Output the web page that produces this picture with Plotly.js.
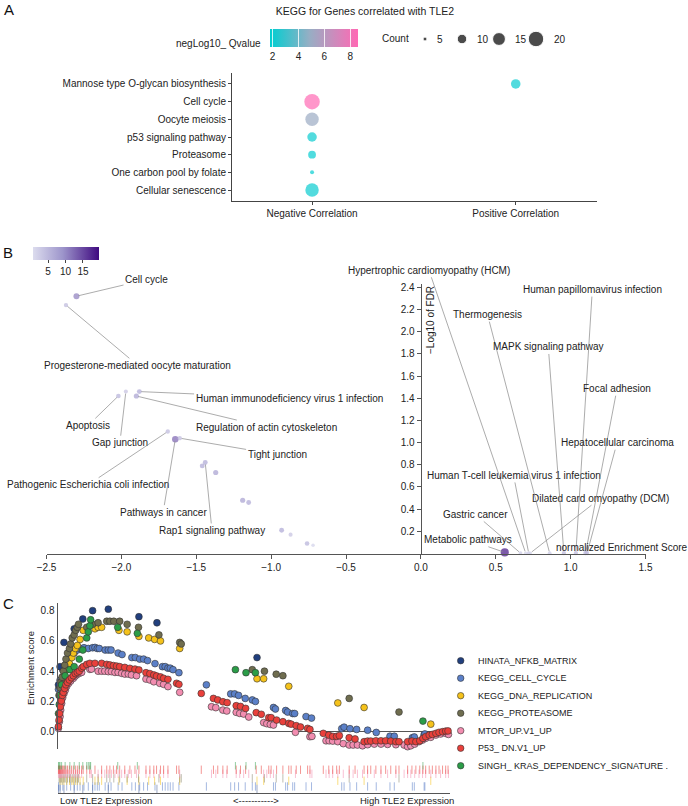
<!DOCTYPE html>
<html><head><meta charset="utf-8">
<script src="https://cdn.plot.ly/plotly-3.0.1.min.js"></script>
<style>body{margin:0;padding:0;background:#fff}#chart{width:688px;height:806px}</style>
</head><body><div id="chart"></div>
<script>
// ================= Panel A data =================
const keggTerms = ["Cellular senescence","One carbon pool by folate","Proteasome","p53 signaling pathway","Oocyte meiosis","Cell cycle","Mannose type O-glycan biosynthesis"];
const keggGroup = ["Negative Correlation","Negative Correlation","Negative Correlation","Negative Correlation","Negative Correlation","Negative Correlation","Positive Correlation"];
const keggCount = [16, 5, 8, 10, 16, 20, 10];
const keggQ = [2.0, 1.9, 1.9, 2.0, 5.0, 8.6, 1.95];
const groupCats = ["Negative Correlation","Positive Correlation"];
const countLegend = [5, 10, 15, 20];
const qTicks = [2, 4, 6, 8];

// ================= Panel B data =================
const nesTerms = ["Cell cycle","Progesterone-mediated oocyte maturation","Apoptosis","Gap junction","Human immunodeficiency virus 1 infection","Regulation of actin cytoskeleton","Pathogenic Escherichia coli infection","Pathways in cancer","Tight junction","Rap1 signaling pathway","","","","","","","","","Metabolic pathways","Gastric cancer","Hypertrophic cardiomyopathy (HCM)","Human T-cell leukemia virus 1 infection","Dilated card omyopathy (DCM)","Thermogenesis","MAPK signaling pathway","Human papillomavirus infection","Focal adhesion","Hepatocellular carcinoma"];
const nes = [-2.30,-2.37,-2.02,-1.97,-1.88,-1.90,-1.69,-1.64,-1.61,-1.44,-1.46,-1.37,-1.19,-1.15,-0.93,-0.87,-0.76,-0.72,0.56,0.665,0.70,0.72,0.73,0.86,0.955,1.035,1.10,1.11];
const fdr = [2.32,2.24,1.42,1.46,1.46,1.42,1.10,1.03,1.04,0.82,0.79,0.73,0.48,0.46,0.21,0.17,0.09,0.075,0.01,0.004,0.003,0.003,0.003,0.003,0.004,0.004,0.004,0.004];
const nesCount = [11,5,6,4,7,8,5,13,5,7,7,8,8,7,7,4,6,2,19,3,2,3,2,3,5,5,6,5];
const nesTicks = [-2.5,-2.0,-1.5,-1.0,-0.5,0.0,0.5,1.0,1.5];
const fdrTicks = [0.2,0.4,0.6,0.8,1.0,1.2,1.4,1.6,1.8,2.0,2.2,2.4];
const nesColorTicks = [5,10,15];

// ================= Panel C data =================
const gsNames = ["HINATA_NFKB_MATRIX","KEGG_CELL_CYCLE","KEGG_DNA_REPLICATION","KEGG_PROTEASOME","MTOR_UP.V1_UP","P53_ DN.V1_UP","SINGH_ KRAS_DEPENDENCY_SIGNATURE ."];
const hinataRank = [0.2,0.6,1.6,4.2,6.4,8.9,12.9,20.7,25.3,50.8];
const hinataES   = [0.31,0.43,0.59,0.68,0.745,0.80,0.81,0.76,0.72,0.49];
const cellCycleRank = [0.2,0.6,1.3,2.3,3.3,4.2,5.0,5.7,6.7,7.8,8.9,9.5,10.1,10.6,12.1,12.9,13.6,15.4,16.4,18.9,19.8,20.9,21.9,22.9,24.8,26.7,27.4,28.1,28.7,29.4,30.9,37.9,44.1,45.1,46.1,47.8,49.6,50.4,55.0,55.5,58.1,58.6,59.9,60.4,63.3,64.7,72.4,73.0,74.5,76.2,79.0,81.2,84.7,85.8,90.4,90.9,93.4,93.6];
const cellCycleES   = [0.28,0.34,0.41,0.45,0.50,0.52,0.54,0.55,0.555,0.55,0.555,0.557,0.55,0.55,0.54,0.54,0.54,0.52,0.51,0.49,0.49,0.48,0.48,0.47,0.45,0.43,0.43,0.42,0.42,0.41,0.39,0.31,0.25,0.25,0.24,0.22,0.21,0.20,0.16,0.15,0.14,0.13,0.12,0.12,0.10,0.09,0.02,0.03,0.02,0.015,0.01,-0.005,-0.03,-0.03,-0.04,-0.035,-0.02,-0.015];
const dnaRank = [0.6,1.1,1.6,2.3,3.0,3.6,4.0,4.5,5.0,5.7,6.5,9.5,10.3,11.2,15.6,17.7,20.7,23.2,24.7,26.2,31.1,50.8,52.5,58.9,71.4,78.1,95.1];
const dnaES   = [0.29,0.33,0.36,0.41,0.45,0.49,0.52,0.55,0.57,0.61,0.67,0.68,0.69,0.69,0.67,0.66,0.63,0.62,0.61,0.60,0.55,0.35,0.35,0.30,0.19,0.16,0.05];
const proteasomeRank = [0.34,0.6,0.85,1.1,1.44,1.8,2.1,2.5,3.0,3.3,3.7,4.2,4.6,5.0,5.3,7.4,8.9,10.3,12.5,13.3,14.3,15.8,17.7,20.6,25.8,31.1,31.5,49.6,52.7,55.7,57.4,74.3,87.0];
const proteasomeES   = [0.24,0.29,0.33,0.36,0.40,0.44,0.48,0.52,0.55,0.58,0.62,0.64,0.67,0.69,0.71,0.69,0.71,0.72,0.73,0.73,0.73,0.73,0.71,0.69,0.64,0.59,0.58,0.41,0.40,0.38,0.37,0.22,0.13];
const mtorRank = [0.17,0.42,0.6,0.76,1.0,1.27,1.6,1.95,2.3,2.8,3.3,4.0,4.5,5.0,5.5,6.1,8.2,8.6,10.3,11.2,12.0,12.9,13.7,14.6,15.4,16.3,17.1,18.0,18.8,20.1,22.5,23.5,24.5,26.0,27.0,28.1,31.1,39.2,40.3,42.1,43.1,45.5,46.4,47.4,48.7,52.5,53.3,54.2,55.0,60.6,64.3,64.8,68.4,69.2,70.1,71.4,72.8,74.3,75.3,76.4,77.7,79.0,80.7,82.4,84.1,86.2,88.3,89.2,90.0,91.0,92.1,93.0,93.8,95.1,96.4,97.6,98.9,99.6];
const mtorES   = [0.022,0.066,0.10,0.143,0.187,0.225,0.253,0.275,0.30,0.32,0.335,0.353,0.368,0.379,0.386,0.392,0.412,0.414,0.40,0.40,0.40,0.397,0.397,0.392,0.392,0.386,0.381,0.381,0.375,0.37,0.348,0.342,0.33,0.32,0.313,0.298,0.26,0.165,0.159,0.143,0.137,0.128,0.121,0.117,0.097,0.06,0.053,0.048,0.044,-0.004,-0.033,-0.031,-0.06,-0.06,-0.062,-0.066,-0.079,-0.088,-0.088,-0.088,-0.093,-0.086,-0.082,-0.082,-0.084,-0.086,-0.088,-0.099,-0.093,-0.082,-0.066,-0.055,-0.044,-0.037,-0.022,-0.015,-0.011,-0.018];
const p53Rank = [0.17,0.34,0.5,0.68,0.93,1.19,1.44,1.78,2.1,2.5,2.97,3.5,3.98,4.5,5.0,5.5,6.1,6.5,7.4,8.2,9.5,11.2,12.5,13.3,14.2,15.0,15.8,17.1,18.4,19.7,20.7,22.5,23.5,24.5,25.2,26.2,27.0,28.1,30.3,30.9,36.6,39.7,40.8,42.1,43.2,45.5,46.6,47.9,50.6,51.9,53.8,54.4,55.8,57.4,58.9,59.5,60.8,61.9,63.7,64.3,67.7,69.1,70.1,71.1,71.8,74.3,75.8,78.1,79.0,79.8,81.1,82.4,83.6,84.9,86.2,87.0,89.2,90.3,91.3,92.3,93.1,93.8,94.7,95.5,96.4,97.2,98.1,98.9,99.5];
const p53ES   = [0.033,0.077,0.12,0.165,0.203,0.24,0.26,0.286,0.31,0.326,0.342,0.357,0.37,0.384,0.392,0.40,0.42,0.43,0.445,0.452,0.452,0.452,0.445,0.441,0.437,0.434,0.43,0.425,0.419,0.414,0.408,0.39,0.384,0.375,0.368,0.362,0.353,0.346,0.32,0.313,0.253,0.22,0.21,0.198,0.192,0.172,0.167,0.154,0.126,0.115,0.093,0.093,0.077,0.066,0.055,0.05,0.04,0.031,0.022,0.015,-0.011,-0.022,-0.031,-0.031,-0.026,-0.04,-0.048,-0.066,-0.062,-0.062,-0.06,-0.06,-0.06,-0.062,-0.066,-0.066,-0.066,-0.062,-0.066,-0.06,-0.044,-0.033,-0.022,-0.018,-0.011,-0.004,0.0,0.004,0.005];
const singhRank = [0.2,0.4,0.6,1.0,1.9,3.1,4.2,5.5,6.4,7.4,7.8,8.2,8.4,15.3,20.3,45.3,48.0,50.4,93.1];
const singhES   = [0.12,0.18,0.24,0.31,0.37,0.41,0.43,0.48,0.54,0.62,0.66,0.70,0.74,0.69,0.65,0.41,0.39,0.39,0.07];
const esTicks = [0.0,0.2,0.4,0.6,0.8];

// ================= styling =================
const W = 688, H = 806;
const px = v => v / W, py = v => 1 - v / H;
const FONT = 'Liberation Sans, Arial, Helvetica, sans-serif';
const TXT = '#222';
const qScale = [[0,'#00ced1'],[0.45,'#97aec4'],[1,'#ff69b4']];
const purpleScale = [[0,'#dcdcee'],[0.45,'#9d95cb'],[1,'#3f0a80']];
const sizeA = c => Math.sqrt(Math.max(14.93 * c - 58.7, 4));
const sizeB = c => 3 + 0.27 * c;

const series = [
  {name: gsNames[0], r: hinataRank, v: hinataES, color: '#213f7e', bar: 'rgba(33,63,126,0.45)', row: 0.7},
  {name: gsNames[1], r: cellCycleRank, v: cellCycleES, color: '#5b80c8', bar: 'rgba(91,128,200,0.55)', row: 1.3},
  {name: gsNames[2], r: dnaRank, v: dnaES, color: '#f5c21b', bar: 'rgba(245,194,27,0.55)', row: 2.7},
  {name: gsNames[3], r: proteasomeRank, v: proteasomeES, color: '#6f6d4f', bar: 'rgba(111,109,79,0.45)', row: 3.3},
  {name: gsNames[4], r: mtorRank, v: mtorES, color: '#f28db0', bar: 'rgba(242,141,176,0.55)', row: 4.4},
  {name: gsNames[5], r: p53Rank, v: p53ES, color: '#e9403b', bar: 'rgba(233,64,59,0.55)', row: 5.4},
  {name: gsNames[6], r: singhRank, v: singhES, color: '#2b9d48', bar: 'rgba(43,157,72,0.5)', row: 6.5}
];
const drawOrder = [1, 0, 2, 3, 6, 4, 5];

const traces = [];
// Panel A
traces.push({
  type: 'scatter', mode: 'markers', x: keggGroup, y: keggTerms, xaxis: 'x', yaxis: 'y',
  marker: {size: keggCount.map(sizeA), color: keggQ, cmin: 1.8, cmax: 8.6, colorscale: qScale, line: {width: 0},
    showscale: true,
    colorbar: {orientation: 'h', x: px(270), xanchor: 'left', y: py(29), yanchor: 'top', len: 88, lenmode: 'pixels',
      thickness: 18, thicknessmode: 'pixels', outlinewidth: 0, xpad: 0, ypad: 0,
      ticks: 'inside', ticklen: 18, tickcolor: 'rgba(255,255,255,0.8)', tickvals: qTicks,
      tickfont: {size: 10, color: TXT, family: FONT}}},
  cliponaxis: false, hoverinfo: 'skip', showlegend: false
});
traces.push({
  type: 'scatter', mode: 'markers', x: countLegend, y: countLegend.map(() => 0), xaxis: 'x4', yaxis: 'y4',
  marker: {size: countLegend.map(sizeA), color: '#000'}, cliponaxis: false, hoverinfo: 'skip', showlegend: false
});
// Panel B
traces.push({
  type: 'scatter', mode: 'markers', x: nes, y: fdr, xaxis: 'x2', yaxis: 'y2', text: nesTerms,
  marker: {size: nesCount.map(sizeB), color: nesCount, cmin: 0.7, cmax: 19.6, colorscale: purpleScale, line: {width: 0},
    showscale: true,
    colorbar: {orientation: 'h', x: px(33), xanchor: 'left', y: py(247), yanchor: 'top', len: 66, lenmode: 'pixels',
      thickness: 13, thicknessmode: 'pixels', outlinewidth: 0, xpad: 0, ypad: 0,
      ticks: 'outside', ticklen: 3, tickcolor: '#444', tickvals: nesColorTicks,
      tickfont: {size: 10, color: TXT, family: FONT}}},
  cliponaxis: false, hoverinfo: 'skip', showlegend: false
});
// Panel C running scores
drawOrder.forEach(i => {
  const s = series[i];
  traces.push({
    type: 'scatter', mode: 'markers', x: s.r, y: s.v, xaxis: 'x3', yaxis: 'y3', name: s.name,
    marker: {size: 6.8, color: s.color, line: {width: 0.6, color: '#333'}},
    cliponaxis: false, hoverinfo: 'skip', showlegend: false
  });
});
// Panel C barcodes (hit positions = ranks of each set)
series.forEach(s => {
  traces.push({
    type: 'scatter', mode: 'markers', x: s.r, y: s.r.map(() => s.row), xaxis: 'x5', yaxis: 'y5',
    marker: {symbol: 'line-ns', size: 6, line: {width: 1, color: s.bar}},
    hoverinfo: 'skip', showlegend: false
  });
});
// Panel C manual legend (pixel overlay axis)
traces.push({
  type: 'scatter', mode: 'markers', x: series.map(() => 460.7), y: series.map((s, i) => 660.7 + 17.5 * i),
  xaxis: 'x6', yaxis: 'y6',
  marker: {size: 6.5, color: series.map(s => s.color), line: {width: 0.6, color: '#333'}},
  cliponaxis: false, hoverinfo: 'skip', showlegend: false
});

const annotations = [];
const font = (s, c) => ({family: FONT, size: s, color: c || TXT});
// panel letters
[['A', 9, 9], ['B', 8, 252], ['C', 8, 603]].forEach(([t, x, y]) => annotations.push({
  xref: 'paper', yref: 'paper', x: px(x), y: py(y), text: t, showarrow: false, xanchor: 'center', yanchor: 'middle', font: font(15, '#111')}));
// Panel A legend texts
annotations.push({xref: 'paper', yref: 'paper', x: px(263), y: py(43), text: 'negLog10_ Qvalue', showarrow: false, xanchor: 'right', yanchor: 'middle', font: font(10)});
annotations.push({xref: 'paper', yref: 'paper', x: px(395), y: py(39), text: 'Count', showarrow: false, xanchor: 'center', yanchor: 'middle', font: font(10)});
countLegend.forEach(c => annotations.push({xref: 'x4', yref: 'y4', x: c, y: 0, text: String(c), showarrow: false, xanchor: 'left', yanchor: 'middle', xshift: sizeA(c) / 2 + 8, font: font(10)}));

// Panel B labels: text anchor positions (data units of the B axes)
const bLabelPos = [
  [-1.832, 2.47], [-1.891, 1.697], [-2.222, 1.155], [-2.01, 0.999], [-0.880, 1.402], [-1.034, 1.140],
  [-2.222, 0.620], [-1.721, 0.373], [-0.960, 0.891], [-1.395, 0.208],
  null, null, null, null, null, null, null, null,
  [0.315, 0.124], [0.366, 0.352], [0.054, 2.554], [0.619, 0.704], [1.199, 0.499], [0.445, 2.154],
  [0.851, 1.862], [1.145, 2.38], [1.31, 1.486], [1.31, 0.999]
];
nesTerms.forEach((t, i) => {
  if (!t || !bLabelPos[i]) return;
  annotations.push({xref: 'x2', yref: 'y2', axref: 'x2', ayref: 'y2', x: nes[i], y: fdr[i], ax: bLabelPos[i][0], ay: bLabelPos[i][1],
    text: t, showarrow: true, arrowhead: 0, arrowwidth: 0.7, arrowcolor: '#888', standoff: 2, startstandoff: 0,
    font: font(10), xanchor: 'center', yanchor: 'middle'});
});
annotations.push({xref: 'paper', yref: 'paper', x: px(430), y: py(320), text: '\u2212Log10 of FDR', textangle: -90, showarrow: false, xanchor: 'center', yanchor: 'middle', font: font(10)});
annotations.push({xref: 'paper', yref: 'paper', x: px(622), y: py(547), text: 'normalized Enrichment Score', showarrow: false, xanchor: 'center', yanchor: 'middle', font: font(10)});

// Panel C texts
annotations.push({xref: 'paper', yref: 'paper', x: px(30), y: py(668), text: 'Enrichment score', textangle: -90, showarrow: false, xanchor: 'center', yanchor: 'middle', font: font(9.5)});
annotations.push({xref: 'paper', yref: 'paper', x: px(57.7), y: py(800), text: 'Low TLE2 Expression', showarrow: false, xanchor: 'left', yanchor: 'middle', font: font(9.5)});
annotations.push({xref: 'paper', yref: 'paper', x: px(256), y: py(800), text: '<----------->', showarrow: false, xanchor: 'center', yanchor: 'middle', font: font(9.5)});
annotations.push({xref: 'paper', yref: 'paper', x: px(456), y: py(800), text: 'High TLE2 Expression', showarrow: false, xanchor: 'right', yanchor: 'middle', font: font(9.5)});
series.forEach((s, i) => annotations.push({xref: 'paper', yref: 'paper', x: px(476), y: py(660.7 + 17.5 * i), text: s.name, showarrow: false, xanchor: 'left', yanchor: 'middle', font: font(9)}));

const axBase = {showgrid: false, zeroline: false, fixedrange: true};
const layout = {
  width: W, height: H, margin: {l: 0, r: 0, t: 0, b: 0, pad: 0},
  paper_bgcolor: '#fff', plot_bgcolor: 'rgba(0,0,0,0)',
  font: {family: FONT, size: 10, color: TXT}, showlegend: false,
  title: {text: 'KEGG for Genes correlated with TLE2', x: px(365), xanchor: 'center', y: py(11), yanchor: 'middle', font: font(10.5)},
  // Panel A
  xaxis: Object.assign({}, axBase, {domain: [px(232), px(597)], anchor: 'y', type: 'category', categoryorder: 'array', categoryarray: groupCats,
    range: [-0.393, 1.399], showline: true, linecolor: '#444', linewidth: 1, ticks: 'outside', ticklen: 3, tickcolor: '#444', tickfont: font(10)}),
  yaxis: Object.assign({}, axBase, {domain: [py(201), py(73)], anchor: 'x', type: 'category', categoryorder: 'array', categoryarray: keggTerms,
    range: [-0.62, 6.62], showline: true, linecolor: '#444', linewidth: 1, ticks: 'outside', ticklen: 3, tickcolor: '#444', tickfont: font(10)}),
  // count legend
  xaxis4: Object.assign({}, axBase, {domain: [px(415), px(560)], anchor: 'y4', range: [3.649, 23.243], visible: false}),
  yaxis4: Object.assign({}, axBase, {domain: [py(48), py(30)], anchor: 'x4', range: [-1, 1], visible: false}),
  // Panel B
  xaxis2: Object.assign({}, axBase, {domain: [px(46.5), px(645.5)], anchor: 'y2', range: [-2.5, 1.5], tickmode: 'array', tickvals: nesTicks, tickformat: '.1f',
    showline: true, linecolor: '#555', linewidth: 1, ticks: 'outside', ticklen: 4, tickcolor: '#555', tickfont: font(10)}),
  yaxis2: Object.assign({}, axBase, {domain: [py(553.5), py(284)], anchor: 'free', position: px(420.7), side: 'left', range: [0, 2.43], tickmode: 'array', tickvals: fdrTicks, tickformat: '.1f',
    showline: true, linecolor: '#555', linewidth: 1, ticks: 'outside', ticklen: 4, tickcolor: '#555', tickfont: font(10)}),
  // Panel C
  xaxis3: Object.assign({}, axBase, {domain: [px(57.7), px(450)], anchor: 'y3', range: [0, 100], showline: false, showticklabels: false, ticks: ''}),
  yaxis3: Object.assign({}, axBase, {domain: [py(749.4), py(603.1)], anchor: 'x3', range: [-0.117, 0.85], tickmode: 'array', tickvals: esTicks, tickformat: '.1f',
    showline: true, linecolor: '#555', linewidth: 1.2, ticks: '', tickfont: font(10), zeroline: true, zerolinecolor: '#555', zerolinewidth: 1.4}),
  xaxis5: Object.assign({}, axBase, {domain: [px(57.7), px(450)], anchor: 'y5', range: [0, 100], showline: true, linecolor: '#555', linewidth: 1, showticklabels: false, ticks: ''}),
  yaxis5: Object.assign({}, axBase, {domain: [py(793), py(762)], anchor: 'x5', range: [-0.3, 7.3], visible: false}),
  // pixel overlay for manual legend
  xaxis6: Object.assign({}, axBase, {domain: [0, 1], anchor: 'y6', range: [0, W], visible: false}),
  yaxis6: Object.assign({}, axBase, {domain: [0, 1], anchor: 'x6', range: [H, 0], visible: false}),
  annotations: annotations
};
Plotly.newPlot('chart', traces, layout, {staticPlot: true, displayModeBar: false});
</script>
</body></html>
